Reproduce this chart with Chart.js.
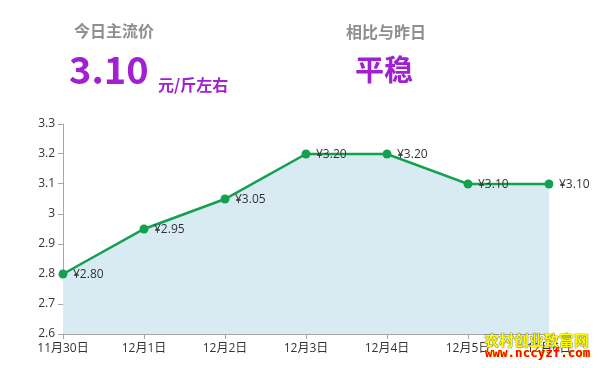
<!DOCTYPE html>
<html>
<head>
<meta charset="utf-8">
<script src="https://cdn.jsdelivr.net/npm/chart.js@4/dist/chart.umd.min.js"></script>
<style>
  html, body { margin: 0; padding: 0; background: #fff; }
  #wrap { position: relative; width: 600px; height: 368px; overflow: hidden; }
  #c { position: absolute; left: 0; top: 0; }
  .txt { position: absolute; font-family: "Noto Sans CJK SC", sans-serif; font-weight: bold; white-space: nowrap; line-height: 1; }
  .grey { color: #8f8f8f; font-size: 16px; }
  .purple { color: #a020d2; }
  .wm1 { color: #ffff00; font-size: 15px; font-weight: bold; text-shadow: 0 0 1px #333, 0 0 1px #333; }
  .wm2 { color: #ff0000; font-family: "DejaVu Sans Mono", monospace; font-size: 12.5px; text-shadow: 0 0 1px #ff0, 0 0 1px #ff0; }
</style>
</head>
<body>
<div id="wrap">
  <canvas id="c" width="600" height="368"></canvas>
  <div class="txt grey" style="left:74px; top:22px;">今日主流价</div>
  <div class="txt purple" style="left:69px; top:49px; font-size:38px;">3.10</div>
  <div class="txt purple" style="left:158px; top:76px; font-size:16px;">元/斤左右</div>
  <div class="txt grey" style="left:346px; top:23px;">相比与昨日</div>
  <div class="txt purple" style="left:355px; top:54px; font-size:29px;">平稳</div>
  <div class="txt wm1" style="left:484px; top:332px;">农村创业致富网</div>
  <div class="txt wm2" style="left:485px; top:347px;">www.nccyzf.com</div>
</div>
<script>
// ===== Dữ liệu =====
const dates = ['11月30日', '12月1日', '12月2日', '12月3日', '12月4日', '12月5日', '12月6日'];
const prices = [2.80, 2.95, 3.05, 3.20, 3.20, 3.10, 3.10];
const priceLabels = ['¥2.80', '¥2.95', '¥3.05', '¥3.20', '¥3.20', '¥3.10', '¥3.10'];
const yTickLabels = ['2.6', '2.7', '2.8', '2.9', '3', '3.1', '3.2', '3.3'];

const fontFamily = '"Open Sans", "Noto Sans CJK SC", sans-serif';
const axisColor = '#a6a6a6';

// nhãn giá bên phải mỗi điểm
const valueLabels = {
    id: 'valueLabels',
    afterDatasetsDraw(chart) {
        const ctx = chart.ctx;
        const meta = chart.getDatasetMeta(0);
        ctx.save();
        ctx.font = '12px ' + fontFamily;
        ctx.fillStyle = '#333';
        ctx.textBaseline = 'middle';
        ctx.textAlign = 'left';
        meta.data.forEach((pt, i) => {
            ctx.fillText(priceLabels[i], pt.x + 10, pt.y + 1);
        });
        ctx.restore();
    }
};

new Chart(document.getElementById('c'), {
    type: 'line',
    data: {
        labels: dates,
        datasets: [{
            data: prices,
            borderColor: '#13a150',
            backgroundColor: '#d9ebf2',
            borderWidth: 2.5,
            fill: 'start',
            tension: 0,
            pointBackgroundColor: '#13a150',
            pointBorderColor: '#13a150',
            pointRadius: 4.5,
            pointBorderWidth: 0
        }]
    },
    options: {
        responsive: false,
        animation: false,
        layout: { padding: { left: 0, top: 124, right: 51, bottom: 0 } },
        plugins: { legend: { display: false }, tooltip: { enabled: false } },
        scales: {
            x: {
                offset: false,
                border: { color: axisColor, width: 1 },
                grid: { drawOnChartArea: false, tickLength: 5, color: axisColor },
                ticks: { color: '#333', font: { family: fontFamily, size: 12 }, padding: 2, maxRotation: 0, autoSkip: false },
                afterFit(scale) { scale.height = 34; }
            },
            y: {
                min: 2.6,
                max: 3.3,
                border: { color: axisColor, width: 1 },
                grid: { drawOnChartArea: false, tickLength: 5, color: axisColor },
                ticks: {
                    stepSize: 0.1,
                    color: '#333',
                    font: { family: fontFamily, size: 12 },
                    padding: 3,
                    callback: (v, i) => yTickLabels[i]
                },
                afterFit(scale) { scale.width = 63; }
            }
        }
    },
    plugins: [valueLabels]
});
</script>
</body>
</html>
